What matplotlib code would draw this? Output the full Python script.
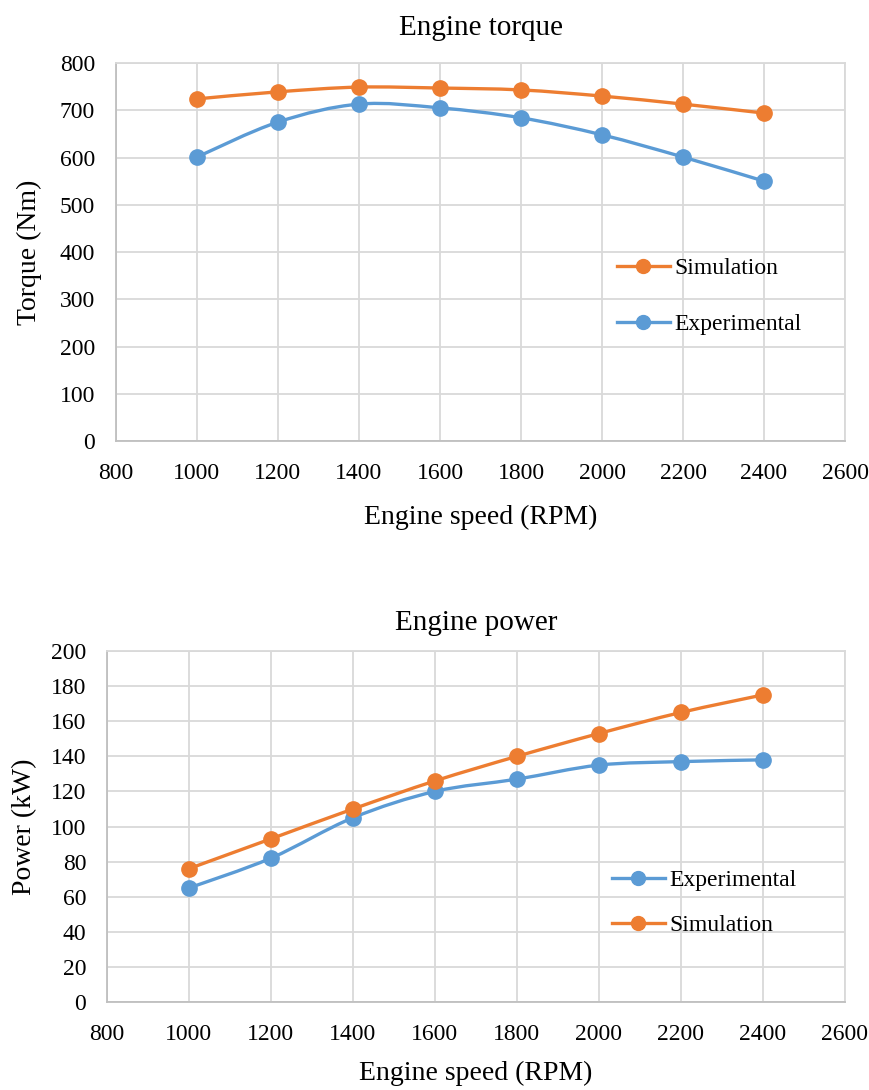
import matplotlib.pyplot as plt
import numpy as np
from matplotlib.path import Path
from matplotlib.patches import PathPatch
from matplotlib.lines import Line2D

plt.rcParams['font.family'] = ['Liberation Serif', 'DejaVu Serif']

rpm = [1000, 1200, 1400, 1600, 1800, 2000, 2200, 2400]
torque_sim = [724, 739, 749, 747, 743, 730, 713, 694]
torque_exp = [601, 675, 713, 705, 684, 648, 601, 550]
power_exp = [65, 82, 105, 120, 127, 135, 137, 138]
power_sim = [76, 93, 110, 126, 140, 153, 165, 175]

ORANGE = '#ED7D31'
BLUE = '#5B9BD5'
GRID = '#D9D9D9'
LW = 2.4
MS = 11


def smooth_path(x, y):
    # excel-like smoothed line: bezier segments with catmull-rom control points
    p = np.column_stack([x, y]).astype(float)
    n = len(p)
    verts = [p[0]]
    codes = [Path.MOVETO]
    for i in range(n - 1):
        p0 = p[i - 1] if i > 0 else p[i]
        p3 = p[i + 2] if i + 2 < n else p[i + 1]
        c1 = p[i] + (p[i + 1] - p0) / 6.0
        c2 = p[i + 1] - (p3 - p[i]) / 6.0
        verts += [c1, c2, p[i + 1]]
        codes += [Path.CURVE4] * 3
    return Path(verts, codes)


def draw_series(ax, x, y, color):
    ax.add_patch(PathPatch(smooth_path(x, y), facecolor='none', edgecolor=color,
                           lw=LW, capstyle='round', joinstyle='round', zorder=3))
    ax.plot(x, y, linestyle='none', marker='o', markersize=MS, color=color, zorder=4)


def style_axes(ax, ymax, ystep):
    ax.set_xlim(800, 2600)
    ax.set_ylim(0, ymax)
    ax.set_xticks(np.arange(800, 2601, 200))
    ax.set_yticks(np.arange(0, ymax + 1, ystep))
    ax.grid(True, color=GRID, lw=1.3)
    ax.set_axisbelow(True)
    for s in ['top', 'right']:
        ax.spines[s].set_color(GRID)
        ax.spines[s].set_linewidth(1.3)
    for s in ['left', 'bottom']:
        ax.spines[s].set_color('#BFBFBF')
        ax.spines[s].set_linewidth(1.3)
    ax.tick_params(length=0, labelsize=17)
    ax.tick_params(axis='x', pad=16)
    ax.tick_params(axis='y', pad=15)


def handle(color):
    return Line2D([], [], color=color, lw=LW, marker='o', markersize=MS - 1)


fig = plt.figure(figsize=(8.7, 10.9), dpi=100)

ax1 = fig.add_axes([0.1333, 0.5954, 0.838, 0.3468])
draw_series(ax1, rpm, torque_sim, ORANGE)
draw_series(ax1, rpm, torque_exp, BLUE)
style_axes(ax1, 800, 100)
ax1.set_title('Engine torque', fontsize=21, pad=20)
ax1.set_xlabel('Engine speed (RPM)', fontsize=20, labelpad=15)
ax1.set_ylabel('Torque (Nm)', fontsize=20, labelpad=13)
ax1.legend([handle(ORANGE), handle(BLUE)], ['Simulation', 'Experimental'],
           frameon=False, fontsize=17, loc='center left',
           bbox_to_anchor=(0.687, 0.382), borderpad=0, borderaxespad=0,
           labelspacing=1.45, handlelength=2.25, handletextpad=0.2)

ax2 = fig.add_axes([0.123, 0.0807, 0.848, 0.322])
draw_series(ax2, rpm, power_exp, BLUE)
draw_series(ax2, rpm, power_sim, ORANGE)
style_axes(ax2, 200, 20)
ax2.set_title('Engine power', fontsize=21, pad=15)
ax2.set_xlabel('Engine speed (RPM)', fontsize=20, labelpad=11)
ax2.set_ylabel('Power (kW)', fontsize=20, labelpad=10)
ax2.legend([handle(BLUE), handle(ORANGE)], ['Experimental', 'Simulation'],
           frameon=False, fontsize=17, loc='center left',
           bbox_to_anchor=(0.684, 0.282), borderpad=0, borderaxespad=0,
           labelspacing=1.0, handlelength=2.25, handletextpad=0.2)

fig.savefig('out.png', dpi=100)
